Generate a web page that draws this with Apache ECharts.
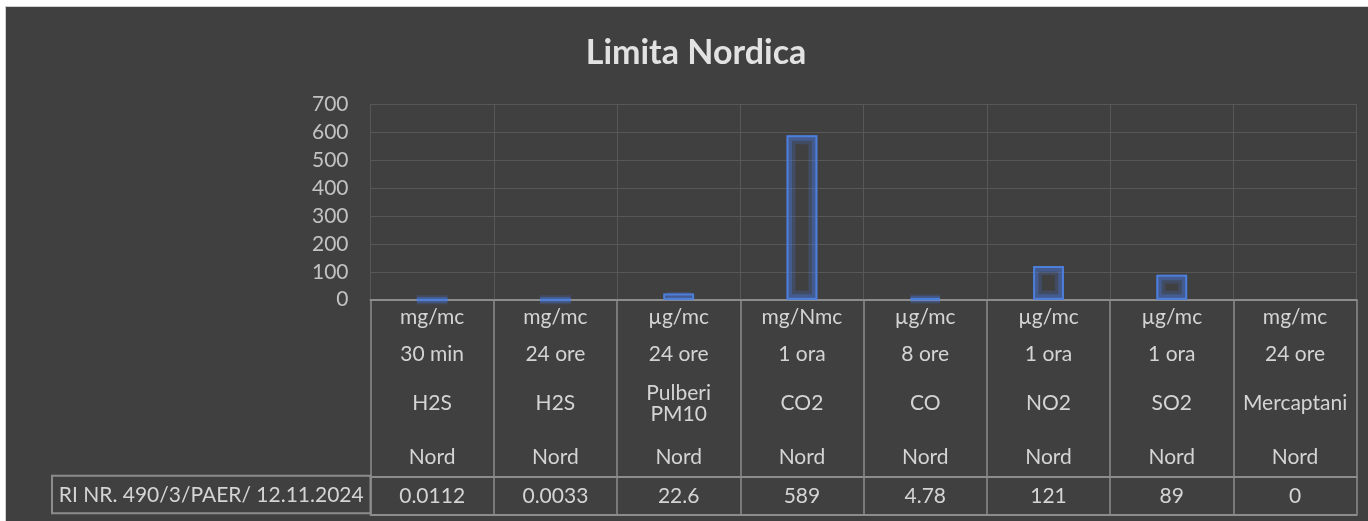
<!DOCTYPE html>
<html>
<head>
<meta charset="utf-8">
<script src="https://cdn.jsdelivr.net/npm/echarts@6/dist/echarts.min.js"></script>
<style>
  html, body { margin: 0; padding: 0; background: #ffffff; width: 1368px; height: 521px; overflow: hidden; }
  #c { position: absolute; left: 5px; top: 6px; width: 1363px; height: 515px;
       border-top: 1px solid #cfcfcf; border-left: 1px solid #cfcfcf; }
</style>
</head>
<body>
<div id="c"></div>
<script>
// ---- data ----
const categories = ['H2S 30 min', 'H2S 24 ore', 'Pulberi PM10', 'CO2', 'CO', 'NO2', 'SO2', 'Mercaptani'];
const units = ['mg/mc', 'mg/mc', 'µg/mc', 'mg/Nmc', 'µg/mc', 'µg/mc', 'µg/mc', 'mg/mc'];
const periods = ['30 min', '24 ore', '24 ore', '1 ora', '8 ore', '1 ora', '1 ora', '24 ore'];
const names = ['H2S', 'H2S', 'Pulberi\nPM10', 'CO2', 'CO', 'NO2', 'SO2', 'Mercaptani'];
const regions = ['Nord', 'Nord', 'Nord', 'Nord', 'Nord', 'Nord', 'Nord', 'Nord'];
const values = [0.0112, 0.0033, 22.6, 589, 4.78, 121, 89, 0];
const valueLabels = ['0.0112', '0.0033', '22.6', '589', '4.78', '121', '89', '0'];
const seriesName = 'RI NR. 490/3/PAER/ 12.11.2024';
const yTicks = { min: 0, max: 700, interval: 100 };
const titleText = 'Limita Nordica';

// ---- layout / style ----
const FONT = 'Lato, "Noto Sans", sans-serif';
const TXT = '#d4d4d4';
const TABLE_LINE = '#8c8c8c';
const GRID_LINE = '#575757';
const G = { left: 364.5, right: 12.3, top: 97.3, bottom: 222.3 };
const W = 1362, H = 514;
const axisY = H - G.bottom;

const chart = echarts.init(document.getElementById('c'), null, { renderer: 'canvas' });

function rowAxis(data, margin, extra) {
  return Object.assign({
    type: 'category', gridIndex: 0, position: 'bottom', data: data,
    axisLine: { show: false }, axisTick: { show: false }, splitLine: { show: false },
    axisLabel: { interval: 0, margin: margin, verticalAlign: 'middle', color: TXT,
                 fontFamily: FONT, fontSize: 21, lineHeight: 20.5 }
  }, extra || {});
}

function barLayer(borderWidth, borderColor, z) {
  return {
    type: 'bar', name: seriesName, xAxisIndex: 0, yAxisIndex: 0,
    barWidth: '25%', barGap: '-100%', z: z, silent: true,
    data: values.map(v => v === 0 ? { value: v, itemStyle: { borderWidth: 0 } } : v),
    itemStyle: { color: 'none', borderColor: borderColor, borderWidth: borderWidth }
  };
}

const option = {
  backgroundColor: '#404040',
  animation: false,
  grid: { left: G.left, right: G.right, top: G.top, bottom: G.bottom },
  xAxis: [
    rowAxis(units, 18, {
      axisLine: { show: true, lineStyle: { color: TABLE_LINE, width: 2 } },
      axisTick: { show: true, length: 215, lineStyle: { color: TABLE_LINE, width: 1.5 } },
      splitLine: { show: true, lineStyle: { color: GRID_LINE, width: 1 } }
    }),
    rowAxis(periods, 55),
    rowAxis(names, 104),
    rowAxis(regions, 158),
    rowAxis(valueLabels, 19.3, { offset: 177,
      axisLine: { show: true, lineStyle: { color: TABLE_LINE, width: 2 } } }),
    rowAxis(valueLabels.map(() => ''), 0, { offset: 214.6,
      axisLine: { show: true, lineStyle: { color: TABLE_LINE, width: 2 } },
      axisLabel: { show: false } })
  ],
  yAxis: {
    type: 'value', min: yTicks.min, max: yTicks.max, interval: yTicks.interval,
    axisLine: { show: false }, axisTick: { show: false },
    axisLabel: { color: '#c2c2c2', fontFamily: FONT, fontSize: 21, margin: 22 },
    splitLine: { show: true, lineStyle: { color: GRID_LINE, width: 1 } }
  },
  series: [
    barLayer(9, 'rgba(70,125,235,0.2)', 1),
    barLayer(5.5, 'rgba(70,125,235,0.32)', 2),
    barLayer(2, '#4c7edc', 3)
  ],
  graphic: [
    { type: 'text', x: 690, y: 46,
      style: { text: titleText, fill: '#e2e2e2', font: 'bold 34px ' + FONT, align: 'center', verticalAlign: 'middle' },
      silent: true },
    { type: 'rect', shape: { x: 46, y: axisY + 177, width: G.left - 46, height: 214.6 - 177 },
      style: { fill: 'none', stroke: TABLE_LINE, lineWidth: 2 }, silent: true },
    { type: 'text', x: (46 + G.left) / 2, y: axisY + 196.3,
      style: { text: seriesName, fill: TXT, font: '21px ' + FONT, align: 'center', verticalAlign: 'middle' },
      silent: true }
  ]
};
chart.setOption(option);
</script>
</body>
</html>
